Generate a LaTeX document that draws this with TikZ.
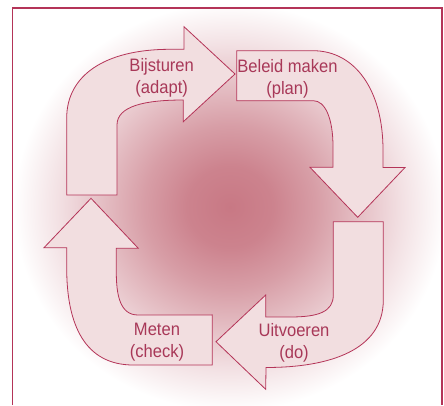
\documentclass[tikz,border=0pt]{standalone}
\usepackage{fontspec}
\setmainfont{Liberation Sans}[FakeStretch=0.92]

\definecolor{cyclered}{RGB}{180,52,88}
\definecolor{cycletext}{RGB}{168,56,88}
\definecolor{arrowfill}{RGB}{242,222,224}
\definecolor{glowcore}{RGB}{200,120,132}
\colorlet{glowA}{glowcore!92!white}
\colorlet{glowB}{glowcore!72!white}
\colorlet{glowC}{glowcore!47!white}
\colorlet{glowD}{glowcore!22!white}

% soft radial glow behind the cycle
\pgfdeclareradialshading{glow}{\pgfpoint{0bp}{0bp}}{%
  color(0bp)=(glowcore); color(5bp)=(glowA); color(10bp)=(glowB);
  color(15bp)=(glowC); color(20bp)=(glowD); color(25bp)=(white);
  color(50bp)=(white)}

\tikzset{
  cyclearrow/.style={draw=cyclered, fill=arrowfill, line width=0.8pt, line join=miter},
  frameline/.style={draw=cyclered, line width=1.3pt},
  lbl/.style={font=\fontsize{18}{22}\selectfont, text=cycletext, align=center,
    inner sep=0pt, anchor=base},
}

\begin{document}
\begin{tikzpicture}[x=1pt, y=-1pt]
  \useasboundingbox (0,0) rectangle (444,405);

  % background glow
  \shade[shading=glow] (230,207) ellipse (216 and 204);

  % frame (open at the bottom)
  \coordinate (fbl) at (12.7,405);
  \coordinate (ftl) at (12.7,8);
  \coordinate (ftr) at (442,8);
  \coordinate (fbr) at (442,405);
  \draw[frameline] (fbl) -- (ftl) -- (ftr) -- (fbr);

  % adapt: up the left side, then right
  \draw[cyclearrow] (66.7,195) -- (66.7,118)
    .. controls (66.7,76) and (104,49.3) .. (170,49.3)
    -- (184,49.3) -- (184,26.7) -- (235,74) -- (183.3,121.7) -- (183.3,100)
    .. controls (145,100) and (117,106) .. (117,125)
    -- (117,195) -- cycle;

  % plan: right along the top, then down
  \draw[cyclearrow] (236.7,50.7) -- (313,50.7)
    .. controls (355,50.7) and (383,90) .. (383,150)
    -- (383,167.5) -- (405,167.5) -- (357.7,217.3) -- (310,167.3) -- (333,167.3)
    -- (333,146.7) .. controls (333,118) and (325,100.7) .. (313.3,100.7)
    -- (236.7,100.7) -- cycle;

  % do: down the right side, then left
  \draw[cyclearrow] (333.3,221.7) -- (383.3,221.7) -- (383.3,300)
    .. controls (383.3,350) and (330,367.5) .. (266,367.5)
    -- (265.7,389.3) -- (216,341.7) -- (265.7,295) -- (265.7,317) -- (290,317)
    .. controls (318,317) and (333.3,312) .. (333.3,295) -- cycle;

  % check: left along the bottom, then up
  \draw[cyclearrow] (212.3,314.3) -- (212.3,365) -- (133.3,365)
    .. controls (85,365) and (66.7,325) .. (66.7,268)
    -- (66.7,247.7) -- (44,247.7) -- (91,198.3) -- (138.3,248.3) -- (116.3,248.3)
    -- (116.3,272) .. controls (116.3,295) and (120,315) .. (138,315)
    -- (212.3,315) -- cycle;

  % labels (anchored on the baseline of the second line)
  \node[lbl] (adapt) at (161.7,93.7) {Bijsturen\\(adapt)};
  \node[lbl] (plan)  at (287.5,94.3) {Beleid maken\\(plan)};
  \node[lbl] (do)    at (294,358)    {Uitvoeren\\(do)};
  \node[lbl] (check) at (157,357)    {Meten\\(check)};
\end{tikzpicture}
\end{document}
